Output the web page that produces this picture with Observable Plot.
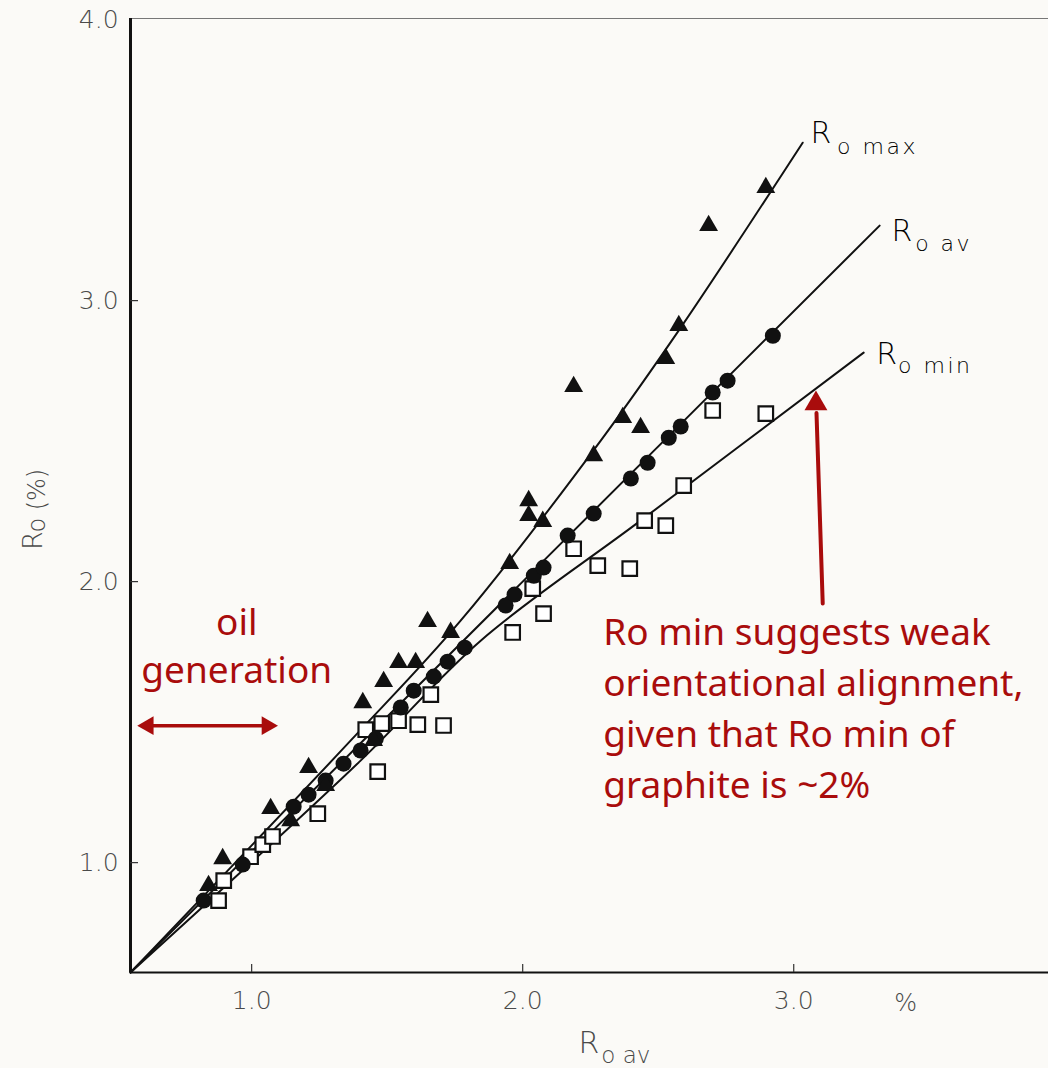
<!DOCTYPE html>
<html><head><meta charset="utf-8">
<script src="https://cdn.jsdelivr.net/npm/d3@7"></script>
<script src="https://cdn.jsdelivr.net/npm/@observablehq/plot@0.6"></script>
<style>
html,body{margin:0;padding:0;background:#fbfaf7;}
#chart svg{display:block}
g[aria-label="text"][font-size="22"] text{letter-spacing:2.5px}
</style>
</head><body><div id="chart"></div>
<script>
// ---- data (Ro av on x, Ro on y, in %) ----
const xDomain = [0.553, 3.94];
const yDomain = [0.609, 4.004];
const xTicks = [1, 2, 3];
const yTicks = [1, 2, 3, 4];

// measured points
const roMaxPts = [[0.841,0.918],[0.893,1.014],[1.070,1.192],[1.144,1.149],[1.210,1.338],[1.273,1.274],
  [1.410,1.569],[1.450,1.434],[1.487,1.644],[1.542,1.712],[1.605,1.712],[1.649,1.858],[1.734,1.819],
  [1.952,2.064],[2.022,2.288],[2.022,2.235],[2.074,2.214],[2.188,2.694],[2.262,2.448],[2.369,2.584],
  [2.435,2.548],[2.528,2.794],[2.576,2.911],[2.686,3.267],[2.897,3.402]];
const roAvPts = [[0.823,0.865],[0.967,0.993],[1.155,1.199],[1.210,1.242],[1.273,1.292],[1.339,1.352],
  [1.402,1.399],[1.458,1.441],[1.550,1.552],[1.598,1.612],[1.672,1.662],[1.723,1.715],[1.786,1.765],
  [1.937,1.915],[1.970,1.954],[2.041,2.021],[2.077,2.050],[2.166,2.164],[2.262,2.242],[2.399,2.367],
  [2.461,2.423],[2.539,2.512],[2.583,2.552],[2.701,2.673],[2.756,2.715],[2.923,2.875]];
const roMinPts = [[0.878,0.865],[0.897,0.936],[0.996,1.021],[1.041,1.064],[1.077,1.093],[1.244,1.174],
  [1.465,1.324],[1.421,1.473],[1.480,1.495],[1.542,1.505],[1.613,1.491],[1.708,1.488],[1.661,1.598],
  [1.963,1.819],[2.077,1.886],[2.037,1.975],[2.188,2.117],[2.277,2.057],[2.395,2.046],[2.450,2.217],
  [2.528,2.199],[2.594,2.342],[2.701,2.609],[2.897,2.598]];

// fitted curves
const roMaxCurve = [[0.553,0.609],[1.365,1.434],[1.771,1.861],[2.288,2.502],[2.583,2.904],[3.033,3.562]];
const roAvCurve  = [[0.553,0.609],[2.0,2.0],[3.317,3.267]];
const roMinCurve = [[0.553,0.609],[1.402,1.363],[1.845,1.790],[2.435,2.217],[3.258,2.815]];

// curve labels: [x, y, main, sub-x, sub-y, sub]
const curveLabels = [
  [3.100,3.594,"R",3.160,3.548,"o max"],
  [3.399,3.246,"R",3.448,3.203,"o av"],
  [3.343,2.808,"R",3.385,2.769,"o min"]
];

// annotations
const oilText = [[0.945,1.853,"oil"],[0.945,1.680,"generation"]];
const oilArrowShaft = [[0.600,1.4875],[1.075,1.4875]];
const oilArrowHeads = [[0.618,1.4875,-90],[1.057,1.4875,90]];
const noteText = [[2.297,1.905,"Ro min suggests weak\norientational alignment,\ngiven that Ro min of\ngraphite is ~2%"]];
const noteArrowShaft = [[3.107,1.922],[3.084,2.60]];
const noteArrowHead = [[3.082,2.633,0]];

const red = "#a90c0c";
const axisFont = "DejaVu Sans";
const gray = "#4a4a4a";
const ticLen = 8;

const plot = Plot.plot({
  width: 1048, height: 1068,
  marginLeft: 130, marginRight: 0, marginTop: 18, marginBottom: 96,
  x: {domain: xDomain, axis: null},
  y: {domain: yDomain, axis: null},
  style: {background: "#fbfaf7", overflow: "visible"},
  marks: [
    // frame
    Plot.ruleY([yDomain[1]], {stroke: "#777", strokeWidth: 1.2}),
    Plot.ruleY([yDomain[0]], {stroke: "#111", strokeWidth: 2}),
    Plot.ruleX([xDomain[0]], {stroke: "#111", strokeWidth: 3}),
    // inward ticks
    Plot.ruleX(xTicks, {y1: yDomain[0], y2: yDomain[0] + ticLen/281, stroke: "#333", strokeWidth: 1.2}),
    Plot.ruleY(yTicks.slice(0,3), {x1: xDomain[0], x2: xDomain[0] + ticLen/271, stroke: "#333", strokeWidth: 1.2}),
    // tick labels
    Plot.text(xTicks, {x: d => d, y: 0.509, text: d => d.toFixed(1), fontSize: 25, fill: gray, fontFamily: axisFont, fontWeight: 300}),
    Plot.text([[3.413,0.498,"%"]], {x: d => d[0], y: d => d[1], text: d => d[2], fontSize: 24, fill: gray, fontFamily: axisFont, fontWeight: 300}),
    Plot.text(yTicks, {x: 0.509, y: d => d, text: d => d.toFixed(1), textAnchor: "end", fontSize: 25, fill: gray, fontFamily: axisFont, fontWeight: 300}),
    // axis titles
    Plot.text([[2.244,0.356,"R"]], {x: d => d[0], y: d => d[1], text: d => d[2], fontSize: 30, fill: gray, fontFamily: axisFont, fontWeight: 300}),
    Plot.text([[2.290,0.313,"o av"]], {x: d => d[0], y: d => d[1], text: d => d[2], textAnchor: "start", fontSize: 23, fill: gray, fontFamily: axisFont, fontWeight: 300}),
    Plot.text([[0.196,2.146,"R"]], {x: d => d[0], y: d => d[1], text: d => d[2], rotate: -90, fontSize: 27, fill: gray, fontFamily: axisFont, fontWeight: 300}),
    Plot.text([[0.209,2.288,"o (%)"]], {x: d => d[0], y: d => d[1], text: d => d[2], rotate: -90, fontSize: 24, fill: gray, fontFamily: axisFont, fontWeight: 300}),
    // curves
    Plot.line(roMaxCurve, {x: d => d[0], y: d => d[1], curve: "catmull-rom", stroke: "#111", strokeWidth: 2}),
    Plot.line(roAvCurve, {x: d => d[0], y: d => d[1], curve: "catmull-rom", stroke: "#111", strokeWidth: 2}),
    Plot.line(roMinCurve, {x: d => d[0], y: d => d[1], curve: "catmull-rom", stroke: "#111", strokeWidth: 2}),
    // points
    Plot.dot(roMinPts, {x: d => d[0], y: d => d[1], symbol: "square", r: 8.2, fill: "#fff", stroke: "#111", strokeWidth: 2.2}),
    Plot.dot(roAvPts, {x: d => d[0], y: d => d[1], symbol: "circle", r: 8, fill: "#111", stroke: "none"}),
    Plot.dot(roMaxPts, {x: d => d[0], y: d => d[1], symbol: "triangle", r: 7, fill: "#111", stroke: "none"}),
    // curve labels
    Plot.text(curveLabels, {x: d => d[0], y: d => d[1], text: d => d[2], fontSize: 30, fill: "#000", fontFamily: axisFont, fontWeight: 300}),
    Plot.text(curveLabels, {x: d => d[3], y: d => d[4], text: d => d[5], textAnchor: "start", fontSize: 22, fill: "#000", fontFamily: axisFont, fontWeight: 300}),
    // annotations
    Plot.text(oilText, {x: d => d[0], y: d => d[1], text: d => d[2], fontSize: 37, fill: red, fontFamily: "Noto Sans"}),
    Plot.line(oilArrowShaft, {x: d => d[0], y: d => d[1], stroke: red, strokeWidth: 3.5}),
    Plot.dot(oilArrowHeads, {x: d => d[0], y: d => d[1], rotate: d => d[2], symbol: "triangle", r: 7, fill: red}),
    Plot.text(noteText, {x: d => d[0], y: d => d[1], text: d => d[2], textAnchor: "start", lineAnchor: "top", lineHeight: 1.38, fontSize: 37, fill: red, fontFamily: "Noto Sans"}),
    Plot.line(noteArrowShaft, {x: d => d[0], y: d => d[1], stroke: red, strokeWidth: 4}),
    Plot.dot(noteArrowHead, {x: d => d[0], y: d => d[1], rotate: d => d[2], symbol: "triangle", r: 8.5, fill: red})
  ]
});
document.getElementById("chart").appendChild(plot);
</script></body></html>
